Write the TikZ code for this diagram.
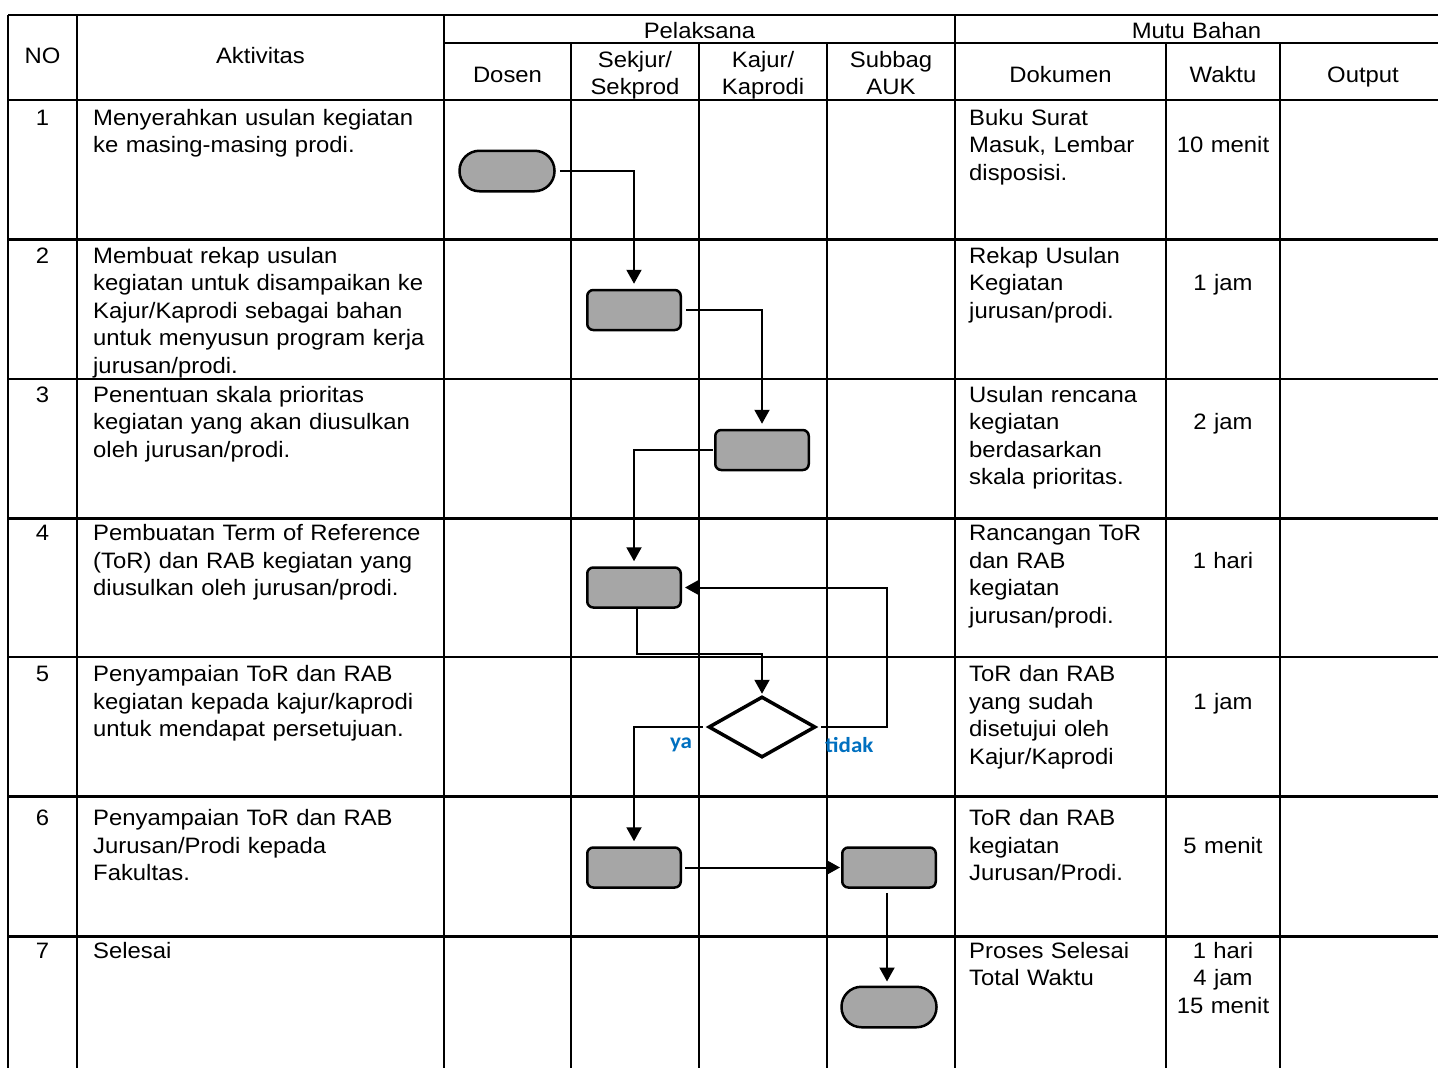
\documentclass[tikz,border=0pt]{standalone}
\usepackage{fontspec}
\setmainfont{Liberation Sans}[FakeStretch=1.07]
\newfontfamily\lblfnt{Carlito}[FakeStretch=1.07]
\usetikzlibrary{arrows.meta,shapes.geometric}
\newcommand\bodyfnt{\fontsize{22.3}{27.6}\selectfont}
\definecolor{boxgray}{HTML}{A6A6A6}
\definecolor{lblblue}{HTML}{0070C0}
\begin{document}
\begin{tikzpicture}[x=1pt,y=-1pt,
  grid/.style={line width=2.3pt},
  txt/.style={anchor=base west, inner sep=0pt, align=left, text width=380pt, font=\bodyfnt},
  ctr/.style={anchor=base, inner sep=0pt, align=center, text width=124pt, font=\bodyfnt},
  term/.style={draw, line width=2.5pt, fill=boxgray, rounded corners=20pt, minimum width=95pt, minimum height=40.5pt, inner sep=0pt},
  proc/.style={draw, line width=2.5pt, fill=boxgray, rounded corners=6pt, minimum width=93.5pt, minimum height=40pt, inner sep=0pt},
  dec/.style={draw, diamond, line width=3.5pt, fill=white, minimum width=107pt, minimum height=61pt, inner sep=0pt},
  conn/.style={line width=2pt, -{Triangle[width=15pt,length=14pt]}},
  lbl/.style={font=\lblfnt\bfseries\fontsize{21.5}{24}\selectfont, text=lblblue, inner sep=0pt}
]
\useasboundingbox (0,0) rectangle (1438,1068);
\fill[white] (0,0) rectangle (1438,1068);

% ---- grid ----
\draw[grid] (8,15) -- (1438,15);
\draw[grid] (444,43) -- (1438,43);
\foreach \yy in {100,239.5,379,518.5,657,796.5,936.5}
  \draw[grid] (8,\yy) -- (1438,\yy);
\foreach \xx in {8,77,444,955}
  \draw[grid] (\xx,15) -- (\xx,1068);
\foreach \xx in {571,699,827,1166,1280}
  \draw[grid] (\xx,43) -- (\xx,1068);

% ---- header ----
\node[ctr] (hno) at (42.5,63) {NO};
\node[ctr, text width=300pt] (hakt) at (260.5,63) {Aktivitas};
\node[ctr, text width=300pt] (hpel) at (699.5,38) {Pelaksana};
\node[ctr, text width=300pt] (hmutu) at (1196.5,38) {Mutu Bahan};
\node[ctr] (hdos) at (507.5,82) {Dosen};
\node[ctr] (hsek) at (635,67) {Sekjur/\\Sekprod};
\node[ctr] (hkaj) at (763,67) {Kajur/\\Kaprodi};
\node[ctr] (hsub) at (891,67) {Subbag\\AUK};
\node[ctr, text width=200pt] (hdok) at (1060.5,82) {Dokumen};
\node[ctr] (hwak) at (1223,82) {Waktu};
\node[ctr] (hout) at (1363,82) {Output};

% ---- numbers ----
\node[ctr] (n1) at (42.5,125) {1};
\node[ctr] (n2) at (42.5,263) {2};
\node[ctr] (n3) at (42.5,402) {3};
\node[ctr] (n4) at (42.5,540.5) {4};
\node[ctr] (n5) at (42.5,681.7) {5};
\node[ctr] (n6) at (42.5,825.7) {6};
\node[ctr] (n7) at (42.5,958) {7};

% ---- aktivitas ----
\node[txt] (a1) at (93,125) {Menyerahkan usulan kegiatan\\ke masing-masing prodi.};
\node[txt] (a2) at (93,263) {Membuat rekap usulan\\kegiatan untuk disampaikan ke\\Kajur/Kaprodi sebagai bahan\\untuk menyusun program kerja\\jurusan/prodi.};
\node[txt] (a3) at (93,402) {Penentuan skala prioritas\\kegiatan yang akan diusulkan\\oleh jurusan/prodi.};
\node[txt] (a4) at (93,540.5) {Pembuatan Term of Reference\\(ToR) dan RAB kegiatan yang\\diusulkan oleh jurusan/prodi.};
\node[txt] (a5) at (93,681.7) {Penyampaian ToR dan RAB\\kegiatan kepada kajur/kaprodi\\untuk mendapat persetujuan.};
\node[txt] (a6) at (93,825.7) {Penyampaian ToR dan RAB\\Jurusan/Prodi kepada\\Fakultas.};
\node[txt] (a7) at (93,958) {Selesai};

% ---- dokumen ----
\node[txt] (d1) at (969,125) {Buku Surat\\Masuk, Lembar\\disposisi.};
\node[txt] (d2) at (969,263) {Rekap Usulan\\Kegiatan\\jurusan/prodi.};
\node[txt] (d3) at (969,402) {Usulan rencana\\kegiatan\\berdasarkan\\skala prioritas.};
\node[txt] (d4) at (969,540.5) {Rancangan ToR\\dan RAB\\kegiatan\\jurusan/prodi.};
\node[txt] (d5) at (969,681.7) {ToR dan RAB\\yang sudah\\disetujui oleh\\Kajur/Kaprodi};
\node[txt] (d6) at (969,825.7) {ToR dan RAB\\kegiatan\\Jurusan/Prodi.};
\node[txt] (d7) at (969,958) {Proses Selesai\\Total Waktu};

% ---- waktu ----
\node[ctr] (w1) at (1223,152.6) {10 menit};
\node[ctr] (w2) at (1223,290.6) {1 jam};
\node[ctr] (w3) at (1223,429.6) {2 jam};
\node[ctr] (w4) at (1223,568.1) {1 hari};
\node[ctr] (w5) at (1223,709.3) {1 jam};
\node[ctr] (w6) at (1223,853.3) {5 menit};
\node[ctr] (w7) at (1223,958) {1 hari\\4 jam\\15 menit};

% ---- flow shapes ----
\node[term] (t1) at (507,171) {};
\node[proc] (b2) at (634,310) {};
\node[proc] (b3) at (762,450) {};
\node[proc] (b4) at (634,587.5) {};
\node[dec]  (dd) at (762,727) {};
\node[proc] (b6a) at (634,867.5) {};
\node[proc] (b6b) at (889,867.5) {};
\node[term] (t7) at (889,1007) {};

\coordinate (m1) at (762,654);
\coordinate (m2) at (887,727);

% ---- connectors ----
\draw[conn, shorten <=4pt, shorten >=5pt] (t1.east) -| (b2.north);
\draw[conn, shorten <=4pt, shorten >=5pt] (b2.east) -| (b3.north);
\draw[conn, shorten <=1pt, shorten >=5pt] (b3.west) -| (b4.north);
\draw[conn, shorten >=1pt] ([xshift=3pt]b4.south) |- (m1) -- (dd.north);
\draw[conn, shorten <=4pt, shorten >=5pt] (dd.west) -| (b6a.north);
\draw[conn, shorten <=4pt, shorten >=3pt] (dd.east) -- (m2) |- (b4.east);
\draw[conn, shorten <=3pt, shorten >=1pt] (b6a.east) -- (b6b.west);
\draw[conn, shorten <=4pt, shorten >=4pt] ([xshift=-2pt]b6b.south) -- ([xshift=-2pt]t7.north);

% ---- labels ----
\node[lbl] (lya) at (681,745) {ya};
\node[lbl, anchor=west] (ltidak) at (825,745) {tidak};
\end{tikzpicture}
\end{document}
